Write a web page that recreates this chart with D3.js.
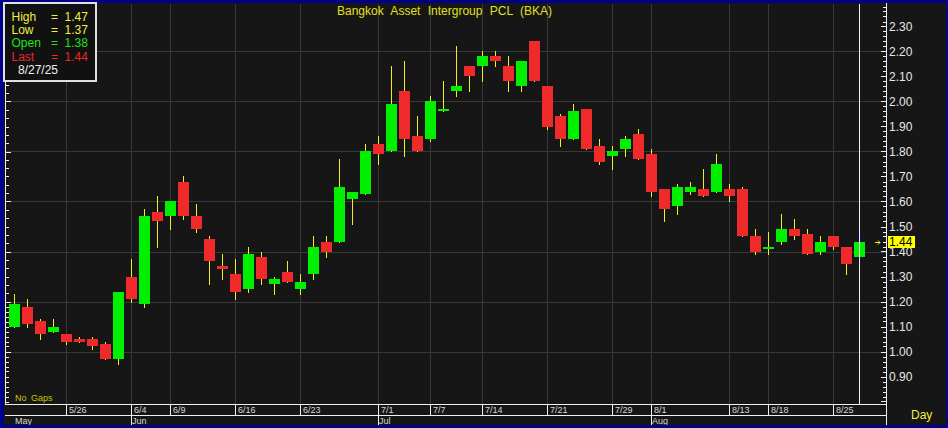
<!DOCTYPE html>
<html>
<head>
<meta charset="utf-8">
<script src="https://cdn.jsdelivr.net/npm/d3@7"></script>
<style>
  html, body { margin: 0; padding: 0; background: #000088; }
  svg { display: block; }
  text { font-family: "Liberation Sans", Arial, sans-serif; }
</style>
</head>
<body>
<svg id="chart" width="948" height="428"></svg>
<script>
// ---------------- DATA ----------------
const dates = ["5/20","5/21","5/22","5/23","5/26","5/27","5/28","5/29","5/30",
  "6/4","6/5","6/6","6/9","6/10","6/11","6/12","6/13","6/16","6/17","6/18","6/19","6/20",
  "6/23","6/24","6/25","6/26","6/27","6/30","7/1","7/2","7/3","7/4","7/7","7/8","7/9","7/10",
  "7/14","7/15","7/16","7/17","7/18","7/21","7/22","7/23","7/24","7/25","7/29","7/30","7/31",
  "8/1","8/4","8/5","8/6","8/7","8/8","8/13","8/14","8/15","8/18","8/19","8/20","8/21","8/22",
  "8/25","8/26","8/27"];
const openVals = [1.10,1.18,1.12,1.08,1.07,1.05,1.05,1.03,0.97,
  1.30,1.19,1.56,1.54,1.68,1.54,1.45,1.34,1.31,1.25,1.38,1.27,1.32,
  1.25,1.31,1.44,1.44,1.61,1.63,1.83,1.80,2.04,1.86,1.85,1.96,2.04,2.14,
  2.14,2.18,2.14,2.06,2.24,2.06,1.94,1.85,1.97,1.82,1.78,1.81,1.87,
  1.79,1.65,1.58,1.64,1.65,1.64,1.65,1.65,1.46,1.41,1.44,1.49,1.47,1.40,
  1.46,1.42,1.38];
const highVals = [1.23,1.21,1.13,1.13,1.07,1.06,1.06,1.04,1.24,
  1.37,1.57,1.62,1.60,1.70,1.59,1.46,1.39,1.37,1.42,1.40,1.30,1.36,
  1.31,1.46,1.46,1.77,1.64,1.83,1.86,2.14,2.16,1.94,2.02,2.08,2.22,2.14,
  2.20,2.20,2.18,2.16,2.24,2.06,1.95,1.99,1.97,1.85,1.82,1.86,1.89,
  1.81,1.65,1.67,1.68,1.73,1.79,1.67,1.66,1.49,1.48,1.55,1.53,1.49,1.46,
  1.46,1.42,1.47];
const lowVals = [1.10,1.10,1.05,1.08,1.03,1.04,1.01,0.97,0.95,
  1.20,1.18,1.42,1.49,1.53,1.48,1.27,1.29,1.21,1.24,1.27,1.23,1.28,
  1.23,1.29,1.38,1.44,1.51,1.63,1.75,1.80,1.78,1.80,1.84,1.96,2.02,2.04,
  2.08,2.14,2.04,2.04,2.08,1.89,1.82,1.85,1.81,1.75,1.73,1.78,1.77,
  1.62,1.52,1.55,1.63,1.62,1.64,1.60,1.46,1.39,1.39,1.43,1.45,1.39,1.39,
  1.41,1.31,1.37];
const closeVals = [1.19,1.11,1.07,1.10,1.04,1.04,1.02,0.97,1.24,
  1.21,1.54,1.52,1.60,1.54,1.49,1.36,1.33,1.24,1.39,1.29,1.29,1.28,
  1.28,1.42,1.40,1.66,1.64,1.80,1.79,1.99,1.85,1.80,2.00,1.97,2.06,2.10,
  2.18,2.16,2.08,2.16,2.08,1.90,1.85,1.96,1.81,1.76,1.80,1.85,1.77,
  1.64,1.57,1.66,1.66,1.62,1.75,1.62,1.46,1.40,1.42,1.49,1.46,1.39,1.44,
  1.42,1.35,1.44];

const yTickLabels = [0.90,1.00,1.10,1.20,1.30,1.40,1.50,1.60,1.70,1.80,1.90,2.00,2.10,2.20,2.30];
const yGridValues = [1.00,1.20,1.40,1.60,1.80,2.00,2.20];
const xTickLabels = ["5/26","6/4","6/9","6/16","6/23","7/1","7/7","7/14","7/21","7/29","8/1","8/13","8/18","8/25"];
const monthNames = ["May","Jun","Jul","Aug"];
const monthStarts = ["5/20","6/4","7/1","8/1"];

const title = "Bangkok Asset Intergroup PCL (BKA)";
const lastDate = "8/27/25";

// ---------------- LAYOUT ----------------
const svg = d3.select("#chart");
const plotL = 6, plotR = 886, plotT = 4, plotB = 404;
const x = d3.scalePoint().domain(dates).range([14.5, 859.5]);
const y = d3.scaleLinear().domain([1.0, 2.3]).range([351.5, 26.5]);

const C = {
  bg: "#161616", grid: "#383838", line: "#f0f0f0", wick: "#f0f020",
  up: "#00f000", down: "#f02a2a", yellow: "#f0f040", label: "#e8e8e8"
};

// backgrounds
svg.append("rect").attr("width", 948).attr("height", 428).attr("fill", "#000088");
svg.append("rect").attr("x", 4).attr("y", 3).attr("width", 942).attr("height", 422).attr("fill", C.bg);

const crisp = svg.append("g").attr("shape-rendering", "crispEdges");

// horizontal grid
crisp.selectAll(".hg").data(yGridValues).join("line")
  .attr("x1", plotL).attr("x2", plotR)
  .attr("y1", d => Math.round(y(d)) + 0.5).attr("y2", d => Math.round(y(d)) + 0.5)
  .attr("stroke", C.grid).attr("stroke-width", 1);

// vertical grid
crisp.selectAll(".vg").data(xTickLabels).join("line")
  .attr("x1", d => Math.floor(x(d)) + 0.5).attr("x2", d => Math.floor(x(d)) + 0.5)
  .attr("y1", plotT).attr("y2", plotB)
  .attr("stroke", C.grid).attr("stroke-width", 1);

// candles
const candles = dates.map((d, i) => ({ d, o: openVals[i], h: highVals[i], l: lowVals[i], c: closeVals[i], last: i === dates.length - 1 }));

crisp.selectAll(".wick").data(candles).join("line")
  .attr("x1", d => Math.floor(x(d.d)) + (d.last ? -0.5 : 0.5))
  .attr("x2", d => Math.floor(x(d.d)) + (d.last ? -0.5 : 0.5))
  .attr("y1", d => Math.round(y(d.h)))
  .attr("y2", d => Math.round(y(d.l)) + 1)
  .attr("stroke", d => d.last ? "#0000a0" : C.wick)
  .attr("stroke-width", d => d.last ? 2 : 1);

crisp.selectAll(".body").data(candles).join("rect")
  .attr("x", d => Math.floor(x(d.d)) - 5)
  .attr("width", 11)
  .attr("y", d => Math.round(y(Math.max(d.o, d.c))))
  .attr("height", d => Math.max(2, Math.round(y(Math.min(d.o, d.c))) - Math.round(y(Math.max(d.o, d.c)))))
  .attr("fill", d => d.c >= d.o ? C.up : C.down);

// cursor line at last bar
crisp.append("line")
  .attr("x1", Math.floor(x(dates[dates.length - 1])) + 0.5)
  .attr("x2", Math.floor(x(dates[dates.length - 1])) + 0.5)
  .attr("y1", plotT).attr("y2", plotB)
  .attr("stroke", C.line);

// left axis line & ticks
crisp.append("line").attr("x1", 5.5).attr("x2", 5.5).attr("y1", plotT).attr("y2", plotB).attr("stroke", C.line);
const leftTicks = [];
for (let k = 0; k <= 36; k++) leftTicks.push({ p: 1.2 + k / 30, major: k % 6 === 0 });
for (let k = 1; k <= 20; k++) leftTicks.push({ p: 1.2 - 0.02 * k, major: k === 10 });
crisp.selectAll(".lt").data(leftTicks.filter(t => y(t.p) > plotT + 1 && y(t.p) < plotB - 1)).join("line")
  .attr("x1", 6).attr("x2", d => d.major ? 11 : 9)
  .attr("y1", d => Math.round(y(d.p)) + 0.5).attr("y2", d => Math.round(y(d.p)) + 0.5)
  .attr("stroke", C.line);

// right axis line & ticks
crisp.append("line").attr("x1", plotR + 0.5).attr("x2", plotR + 0.5).attr("y1", 3).attr("y2", 425).attr("stroke", C.line);
const rightTicks = d3.range(40, 120).map(k => ({ p: k * 0.02, major: (k * 2) % 10 === 0 }));
crisp.selectAll(".rt").data(rightTicks.filter(t => y(t.p) > plotT && y(t.p) < plotB - 1)).join("line")
  .attr("x1", d => d.major ? plotR - 5 : plotR - 3).attr("x2", plotR)
  .attr("y1", d => Math.round(y(d.p)) + 0.5).attr("y2", d => Math.round(y(d.p)) + 0.5)
  .attr("stroke", C.line);

// y labels via d3 axis
const yAxisG = svg.append("g").attr("transform", `translate(${plotR},0)`)
  .call(d3.axisRight(y).tickValues(yTickLabels).tickFormat(d3.format(".2f")).tickSize(0).tickPadding(3));
yAxisG.select(".domain").remove();
yAxisG.selectAll("text").attr("fill", C.label).attr("font-size", 12)
  .attr("font-family", "'Liberation Sans', Arial, sans-serif").attr("dy", "0.36em");

// last value marker
const lastC = closeVals[closeVals.length - 1];
const ly = Math.round(y(lastC));
svg.append("rect").attr("x", 888).attr("y", ly - 6).attr("width", 27).attr("height", 12).attr("fill", "#ffff00");
svg.append("text").attr("x", 889).attr("y", ly + 4).attr("font-size", 12).attr("fill", "#000").text(lastC.toFixed(2));
svg.append("path").attr("d", `M875,${ly + 0.5} L880,${ly + 0.5} M878,${ly - 1.5} L880,${ly + 0.5} L878,${ly + 2.5}`)
  .attr("stroke", "#f0f020").attr("fill", "none").attr("stroke-width", 1);

// bottom axis lines
crisp.append("line").attr("x1", 5).attr("x2", plotR).attr("y1", 404.5).attr("y2", 404.5).attr("stroke", C.line);
crisp.append("line").attr("x1", 5).attr("x2", plotR).attr("y1", 415.5).attr("y2", 415.5).attr("stroke", C.line);

// date labels via d3 axis
const xAxisG = svg.append("g").attr("transform", "translate(0,404)")
  .call(d3.axisBottom(x).tickValues(xTickLabels).tickSize(11).tickPadding(0));
xAxisG.select(".domain").remove();
xAxisG.selectAll(".tick line").attr("stroke", C.line).attr("shape-rendering", "crispEdges")
  .attr("transform", "translate(-0.5,0)");
xAxisG.selectAll(".tick text").attr("text-anchor", "start").attr("x", 2).attr("y", 9).attr("dy", 0)
  .attr("fill", "#d8d8d8").attr("font-size", 9).attr("font-family", "'Liberation Sans', Arial, sans-serif");

// month labels
const months = monthNames.map((m, i) => ({ m, d: monthStarts[i], first: i === 0 }));
crisp.selectAll(".mt").data(months.filter(m => !m.first)).join("line")
  .attr("x1", d => Math.floor(x(d.d)) + 0.5).attr("x2", d => Math.floor(x(d.d)) + 0.5)
  .attr("y1", 415).attr("y2", 425).attr("stroke", C.line);
svg.selectAll(".ml").data(months).join("text")
  .attr("x", d => Math.floor(x(d.d)) + 1).attr("y", 424)
  .attr("font-size", 9).attr("fill", "#d8d8d8").text(d => d.m);

// title
svg.append("text").attr("x", 444.5).attr("y", 15).attr("text-anchor", "middle")
  .attr("font-size", 12).attr("word-spacing", 4).attr("fill", "#e0e020").text(title);

// No Gaps & Day
svg.append("text").attr("x", 15).attr("y", 401).attr("font-size", 9).attr("fill", "#c8c800").attr("word-spacing", 2).text("No Gaps");
svg.append("text").attr("x", 911).attr("y", 419).attr("font-size", 12).attr("fill", "#f0f040").text("Day");

// legend box
const lg = svg.append("g");
lg.append("rect").attr("x", 4).attr("y", 3).attr("width", 92).attr("height", 78)
  .attr("fill", "#111").attr("stroke", "#e0e0e0").attr("stroke-width", 2);
const legendRows = [
  { k: "High", v: highVals[highVals.length - 1], col: C.yellow },
  { k: "Low", v: lowVals[lowVals.length - 1], col: C.yellow },
  { k: "Open", v: openVals[openVals.length - 1], col: "#20e020" },
  { k: "Last", v: closeVals[closeVals.length - 1], col: "#e82828" }
];
legendRows.forEach((r, i) => {
  const by = 20.7 + i * 13.3;
  lg.append("text").attr("x", 11.5).attr("y", by).attr("font-size", 12).attr("fill", r.col).text(r.k);
  lg.append("text").attr("x", 51).attr("y", by).attr("font-size", 12).attr("fill", r.col).text("=");
  lg.append("text").attr("x", 64.5).attr("y", by).attr("font-size", 12).attr("fill", r.col).text(r.v.toFixed(2));
});
lg.append("text").attr("x", 18).attr("y", 73.5).attr("font-size", 12).attr("fill", "#f0f0f0").text(lastDate);

// outer blue border on top
svg.append("rect").attr("x", 0).attr("y", 425).attr("width", 948).attr("height", 3).attr("fill", "#000088");
</script>
</body>
</html>
